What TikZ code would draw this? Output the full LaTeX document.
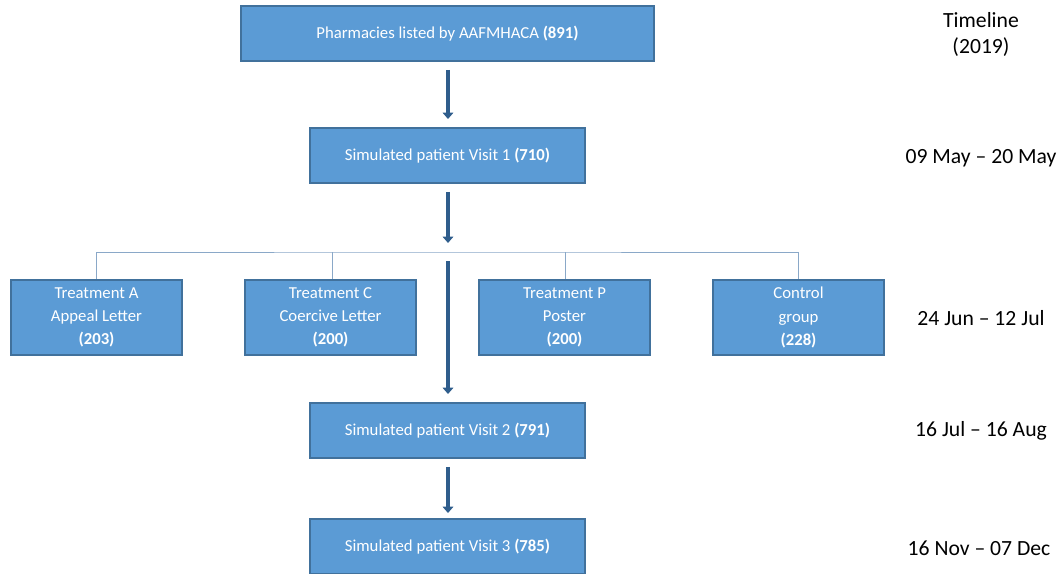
\documentclass[tikz,border=0pt]{standalone}
\usepackage{fontspec}
\setmainfont{Carlito}
\usepackage{xcolor}
\usetikzlibrary{arrows.meta}
\usetikzlibrary{positioning}

\definecolor{boxfill}{HTML}{5B9BD5}
\definecolor{boxline}{HTML}{41719C}
\definecolor{arrowblue}{HTML}{2F5D8C}
\definecolor{linkblue}{HTML}{8AA8C8}

\tikzset{
	stage/.style={draw=boxline, line width=1.4pt, fill=boxfill, text=white,
		minimum height=55*0.025cm, inner sep=0pt, font=\fontsize{11.9}{14}\selectfont},
	trt/.style={stage, minimum width=171*0.025cm, minimum height=75*0.025cm,
		align=center, font=\fontsize{11.9}{16.4}\selectfont},
	flow/.style={draw=arrowblue, line width=2.6pt,
		-{Triangle[width=7.5pt,length=4.5pt]}, shorten >=0pt},
	link/.style={draw=linkblue, line width=0.7pt},
	when/.style={font=\fontsize{15.4}{18.5}\selectfont, align=center}
}

\begin{document}
\begin{tikzpicture}[x=0.025cm, y=-0.025cm, line cap=butt, line join=miter]
	\useasboundingbox (0,0) rectangle (1059,573);

	% Main stages
	\node[stage, minimum width=413*0.025cm] (list) at (447.5,33.5)
		{Pharmacies listed by AAFMHACA \textbf{(891)}};
	\node[stage, minimum width=275*0.025cm] (v1) at (447.5,155.5)
		{Simulated patient Visit 1 \textbf{(710)}};
	\node[stage, minimum width=275*0.025cm] (v2) at (447.5,430.5)
		{Simulated patient Visit 2 \textbf{(791)}};
	\node[stage, minimum width=275*0.025cm] (v3) at (447.5,546.5)
		{Simulated patient Visit 3 \textbf{(785)}};

	% Treatment groups
	\node[trt] (tA) at (96.5,317.5) {Treatment A\\Appeal Letter\\\textbf{(203)}};
	\node[trt] (tC) at (330.5,317.5) {Treatment C\\Coercive Letter\\\textbf{(200)}};
	\node[trt] (tP) at (564.5,317.5) {Treatment P\\Poster\\\textbf{(200)}};
	\node[trt] (ctl) at (798.5,317.5) {Control\\group\\\textbf{(228)}};

	% Split bar over the groups
	\coordinate (bar) at (448,252);
	\draw[link] (tA.north) |- (bar) -| (ctl.north);
	\draw[link] ([xshift=2*0.025cm]tC.north) -- ([xshift=2*0.025cm]tC.north |- bar);
	\draw[link] ([xshift=1*0.025cm]tP.north) -- ([xshift=1*0.025cm]tP.north |- bar);

	% Arrows
	\coordinate (gap) at (448,261);
	\draw[flow] ([yshift=-8*0.025cm]list.south -| bar) -- ([yshift=8*0.025cm]v1.north -| bar);
	\draw[flow] ([yshift=-8*0.025cm]v1.south -| bar) -- ([yshift=9*0.025cm]bar);
	\draw[flow] (gap) -- ([yshift=8*0.025cm]v2.north -| bar);
	\draw[flow] ([yshift=-8*0.025cm]v2.south -| bar) -- ([yshift=5*0.025cm]v3.north -| bar);

	% Timeline
	\node[when] (t0) at (981,34) {Timeline\\(2019)};
	\node[when] (t1) at (981,158) {09 May -- 20 May};
	\node[when] (t2) at (981,318) {24 Jun -- 12 Jul};
	\node[when] (t3) at (981,431) {16 Jul -- 16 Aug};
	\node[when] (t4) at (979,548) {16 Nov -- 07 Dec};
\end{tikzpicture}
\end{document}
